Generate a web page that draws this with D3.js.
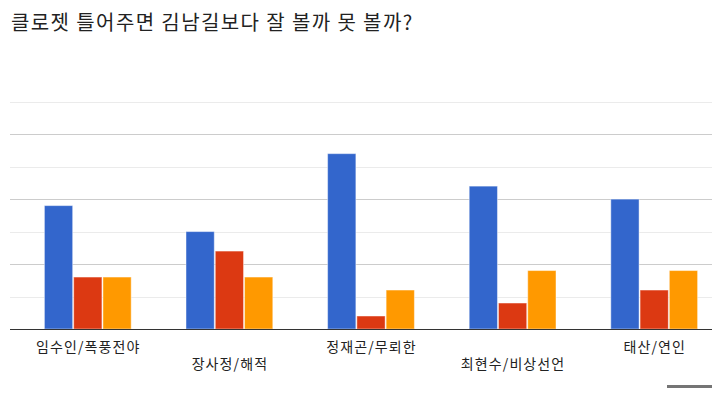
<!DOCTYPE html>
<html><head><meta charset="utf-8">
<script src="https://cdn.jsdelivr.net/npm/d3@7/dist/d3.min.js"></script>
<style>body{margin:0;background:#fff;overflow:hidden}svg{display:block}</style>
</head><body>
<script>
const title = "클로젯 틀어주면 김남길보다 잘 볼까 못 볼까?";
const categories = ["임수인/폭풍전야","장사정/해적","정재곤/무뢰한","최현수/비상선언","태산/연인"];
const seriesA = [19, 15, 27, 22, 20];
const seriesB = [8, 12, 2, 4, 6];
const seriesC = [8, 8, 6, 9, 9];
const colors = ["#3366cc","#dc3912","#ff9900"];
const gridTicks = [5,10,15,20,25,30,35];
const majorTicks = [10,20,30];

const W = 712, H = 393;
const svg = d3.select("body").append("svg").attr("width",W).attr("height",H);
const font = "'Noto Sans CJK KR', 'Noto Sans', Roboto, sans-serif";

svg.append("text").attr("x",11).attr("y",30).attr("font-family",font)
  .attr("font-size",20).attr("letter-spacing",1.4).attr("fill","#222").text(title);

const y = d3.scaleLinear().domain([0,35]).range([329,101.7]);
const x = d3.scaleBand().domain(categories).range([17,725]).paddingInner(0.38).paddingOuter(0.19);
const series = [seriesA, seriesB, seriesC];
const xs = d3.scaleBand().domain(d3.range(series.length)).range([0, x.bandwidth()]);

// gridlines
svg.append("g").selectAll("line").data(gridTicks).join("line")
  .attr("x1",10).attr("x2",W).attr("y1",d=>Math.round(y(d))+0.5).attr("y2",d=>Math.round(y(d))+0.5)
  .attr("stroke",d=>majorTicks.includes(d)?"#cccccc":"#ebebeb").attr("stroke-width",1);

// bars
const g = svg.append("g");
series.forEach((vals,si)=>{
  g.selectAll(null).data(vals).join("rect")
    .attr("x",(d,i)=>x(categories[i])+xs(si)+0.5)
    .attr("width",xs.bandwidth()-1)
    .attr("y",d=>y(d))
    .attr("height",d=>y(0)-y(d))
    .attr("fill",colors[si])
    .attr("stroke","#ffffff").attr("stroke-opacity",0.45).attr("stroke-width",1);
});

// baseline
svg.append("line").attr("x1",10).attr("x2",W).attr("y1",329.5).attr("y2",329.5)
  .attr("stroke","#333").attr("stroke-width",1);

// category labels (staggered)
svg.append("g").selectAll("text").data(categories).join("text")
  .attr("x",d=>x(d)+x.bandwidth()/2+0.5)
  .attr("y",(d,i)=> i%2===0 ? 351.5 : 369)
  .attr("text-anchor","middle").attr("font-family",font).attr("font-size",14)
  .attr("letter-spacing",1.1)
  .attr("fill","#222").text(d=>d);

// scroll indicator
svg.append("rect").attr("x",667).attr("y",385).attr("width",45).attr("height",3).attr("fill","#757575");
</script>
</body></html>
